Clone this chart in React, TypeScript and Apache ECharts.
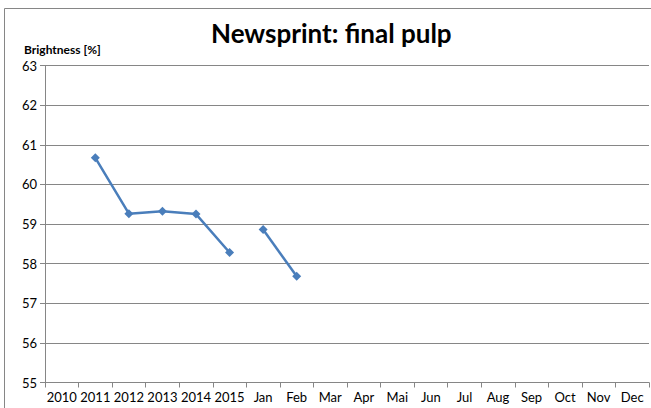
import React, { useEffect, useRef } from "react";
import * as echarts from "echarts";

const categories = ["2010", "2011", "2012", "2013", "2014", "2015", "Jan", "Feb", "Mar", "Apr", "Mai", "Jun", "Jul", "Aug", "Sep", "Oct", "Nov", "Dec"];
const yearCategories = ["2011", "2012", "2013", "2014", "2015"];
const yearValues = [60.67, 59.26, 59.32, 59.25, 58.28];
const monthCategories = ["Jan", "Feb"];
const monthValues = [58.86, 57.68];
const titleText = "Newsprint: final pulp";
const yAxisTitle = "Brightness [%]";

const FONT = "Lato, 'Open Sans', sans-serif";
const GRID = "#868686";
const BLUE = "#4A7EBB";

export default function App() {
  const ref = useRef<HTMLDivElement>(null);
  useEffect(() => {
    if (!ref.current) return;
    const chart = echarts.init(ref.current, undefined, { renderer: "svg" });
    const yearData = yearCategories.map((c, i) => [c, yearValues[i]]);
    const monthData = monthCategories.map((c, i) => [c, monthValues[i]]);
    const seriesCommon = {
      type: "line" as const,
      symbol: "diamond",
      symbolSize: 9,
      lineStyle: { color: BLUE, width: 2.5 },
      itemStyle: { color: BLUE },
      z: 3,
    };
    chart.setOption({
      animation: false,
      backgroundColor: "#ffffff",
      textStyle: { fontFamily: FONT },
      title: [
        {
          text: titleText,
          left: 206,
          top: 15,
          textStyle: { fontFamily: FONT, fontSize: 26, fontWeight: "bold", color: "#000" },
        },
        {
          text: yAxisTitle,
          left: 19,
          top: 38,
          textStyle: { fontFamily: FONT, fontSize: 12, fontWeight: "bold", color: "#000" },
        },
      ],
      graphic: [
        {
          type: "rect",
          silent: true,
          z: -1,
          shape: { x: 4.5, y: 8.5, width: 700, height: 500 },
          style: { fill: "none", stroke: GRID, lineWidth: 1 },
        },
      ],
      grid: { left: 45, right: 2, top: 65.5, bottom: 25.5 },
      xAxis: {
        type: "category",
        data: categories,
        boundaryGap: true,
        axisLine: { show: true, lineStyle: { color: GRID, width: 1 } },
        axisTick: { show: true, length: 5, lineStyle: { color: GRID } },
        axisLabel: { interval: 0, fontFamily: FONT, fontSize: 13, color: "#000", margin: 8 },
        splitLine: { show: false },
      },
      yAxis: {
        type: "value",
        min: 55,
        max: 63,
        interval: 1,
        axisLine: { show: true, lineStyle: { color: GRID, width: 1 } },
        axisTick: { show: true, length: 5, lineStyle: { color: GRID } },
        axisLabel: { fontFamily: FONT, fontSize: 13, color: "#000", margin: 8 },
        splitLine: { show: true, lineStyle: { color: GRID, width: 1 } },
      },
      series: [
        { ...seriesCommon, name: "Years", data: yearData },
        { ...seriesCommon, name: "Months", data: monthData },
      ],
    });
    return () => chart.dispose();
  }, []);
  return (
    <div
      ref={ref}
      style={{ position: "absolute", left: 0, top: 0, width: 651, height: 408 }}
    />
  );
}
